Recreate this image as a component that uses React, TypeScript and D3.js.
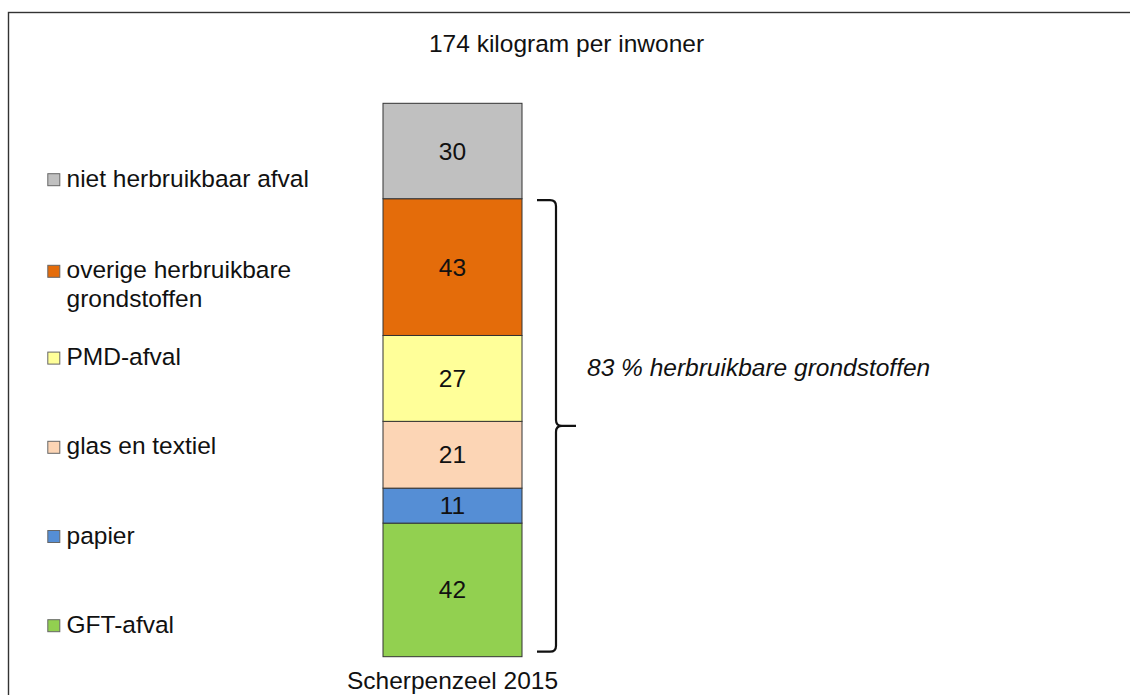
import React, { useRef, useEffect } from "react";
import * as d3 from "d3";

// bottom to top, as stacked in the bar
const categories = [
    "GFT-afval",
    "papier",
    "glas en textiel",
    "PMD-afval",
    "overige herbruikbare grondstoffen",
    "niet herbruikbaar afval",
];
const values = [42, 11, 21, 27, 43, 30];
const colors = ["#92D050", "#558ED5", "#FCD5B5", "#FFFF99", "#E46C0A", "#C0C0C0"];

// legend is listed top to bottom, long label wrapped like the original
const legendLines = [
    ["niet herbruikbaar afval"],
    ["overige herbruikbare", "grondstoffen"],
    ["PMD-afval"],
    ["glas en textiel"],
    ["papier"],
    ["GFT-afval"],
];
const legendColors = ["#C0C0C0", "#E46C0A", "#FFFF99", "#FCD5B5", "#558ED5", "#92D050"];

const title = "174 kilogram per inwoner";
const barLabel = "Scherpenzeel 2015";
const bracketLabel = "83 % herbruikbare grondstoffen";

const WIDTH = 1130;
const HEIGHT = 695;
const FONT = "'Liberation Sans', Arial, sans-serif";

const App: React.FC = () => {
    const svgRef = useRef<SVGSVGElement | null>(null);

    useEffect(() => {
        if (!svgRef.current) return;
        d3.select(svgRef.current).selectAll("*").remove();

        const svg = d3
            .select(svgRef.current)
            .attr("width", WIDTH)
            .attr("height", HEIGHT)
            .style("font-family", FONT);

        // chart frame (runs off the right and bottom edge)
        svg.append("rect")
            .attr("x", 8.5)
            .attr("y", 12.5)
            .attr("width", WIDTH + 20)
            .attr("height", HEIGHT + 20)
            .attr("fill", "#fff")
            .attr("stroke", "#333")
            .attr("stroke-width", 1.4);

        const total = d3.sum(values);
        const ends = d3.cumsum(values);

        const x = d3.scaleBand().domain([barLabel]).range([383, 522]).padding(0);
        const y = d3.scaleLinear().domain([0, total]).range([656.7, 103.3]);

        const segs = values.map((v, i) => ({
            value: v,
            y0: ends[i] - v,
            y1: ends[i],
            color: colors[i],
            name: categories[i],
        }));

        const bar = svg.append("g");
        bar.selectAll("rect")
            .data(segs)
            .enter()
            .append("rect")
            .attr("x", x(barLabel)!)
            .attr("width", x.bandwidth())
            .attr("y", (d) => y(d.y1))
            .attr("height", (d) => y(d.y0) - y(d.y1))
            .attr("fill", (d) => d.color)
            .attr("stroke", "#333")
            .attr("stroke-width", 1);

        bar.selectAll("text")
            .data(segs)
            .enter()
            .append("text")
            .attr("x", x(barLabel)! + x.bandwidth() / 2)
            .attr("y", (d) => (y(d.y0) + y(d.y1)) / 2 + 8.5)
            .attr("text-anchor", "middle")
            .attr("font-size", 24.5)
            .attr("fill", "#111")
            .text((d) => d.value);

        // title + category label
        svg.append("text")
            .attr("x", 566.5)
            .attr("y", 52.3)
            .attr("text-anchor", "middle")
            .attr("font-size", 24.5)
            .attr("fill", "#111")
            .text(title);

        // nudged up a little so the descenders stay on the page
        svg.append("text")
            .attr("x", x(barLabel)! + x.bandwidth() / 2)
            .attr("y", 689)
            .attr("text-anchor", "middle")
            .attr("font-size", 24.5)
            .attr("fill", "#111")
            .text(barLabel);

        // bracket over the recyclable part (everything below "niet herbruikbaar")
        const top = y(ends[4]) + 1.5;
        const bot = y(0) - 5;
        const mid = (top + bot) / 2;
        const bx = 556;
        const r = 6;
        const path = d3.path();
        path.moveTo(537, top);
        path.lineTo(bx - r, top);
        path.quadraticCurveTo(bx, top, bx, top + r);
        path.lineTo(bx, mid - r);
        path.quadraticCurveTo(bx, mid, bx + r, mid);
        path.lineTo(576, mid);
        path.moveTo(bx + r, mid);
        path.quadraticCurveTo(bx, mid, bx, mid + r);
        path.lineTo(bx, bot - r);
        path.quadraticCurveTo(bx, bot, bx - r, bot);
        path.lineTo(537, bot);
        svg.append("path")
            .attr("d", path.toString())
            .attr("fill", "none")
            .attr("stroke", "#111")
            .attr("stroke-width", 2.2);

        svg.append("text")
            .attr("x", 587)
            .attr("y", 375.7)
            .attr("font-size", 24.5)
            .attr("font-style", "italic")
            .attr("fill", "#111")
            .text(bracketLabel);

        // legend
        const ly = d3
            .scalePoint<number>()
            .domain(d3.range(legendLines.length))
            .range([186.7, 632.7]);

        const items = svg
            .append("g")
            .selectAll("g")
            .data(legendLines)
            .enter()
            .append("g")
            .attr("transform", (_, i) => `translate(0,${ly(i)! + (legendLines[i].length > 1 ? 2.4 : 0)})`);

        items.append("rect")
            .attr("x", 47.8)
            .attr("y", -13)
            .attr("width", 12)
            .attr("height", 12)
            .attr("fill", (_, i) => legendColors[i])
            .attr("stroke", "#666")
            .attr("stroke-width", 1);

        items.append("text")
            .attr("font-size", 24.5)
            .attr("fill", "#111")
            .selectAll("tspan")
            .data((d) => d)
            .enter()
            .append("tspan")
            .attr("x", 66.5)
            .attr("y", (_, j) => j * 29.2)
            .text((d) => d);
    }, []);

    return (
        <svg
            ref={svgRef}
            style={{ position: "absolute", left: 0, top: 0, display: "block" }}
        ></svg>
    );
};

export default App;
